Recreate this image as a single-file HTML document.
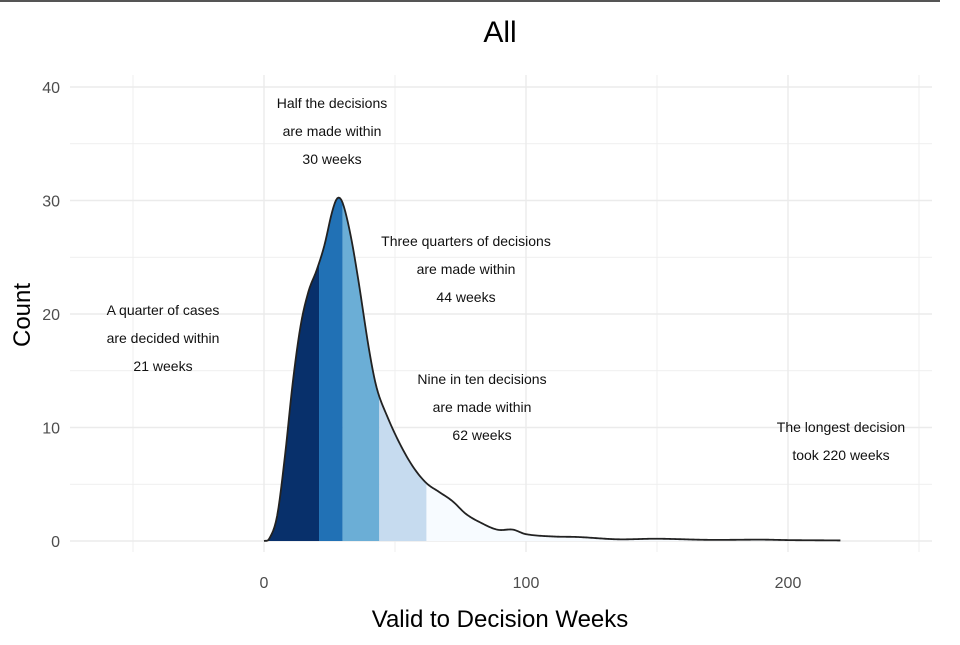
<!DOCTYPE html>
<html><head><meta charset="utf-8"><style>
body{margin:0;background:#fff;width:960px;height:640px;overflow:hidden}
svg{font-family:"Liberation Sans",sans-serif}
</style></head><body>
<svg id="chart" width="960" height="640" viewBox="0 0 960 640" xmlns="http://www.w3.org/2000/svg">
<rect x="0" y="0" width="940" height="2" fill="#555"/>
<g id="grid"></g>
<g id="areas"></g>
<g id="ticks"></g>
<text x="500" y="42" font-size="30" text-anchor="middle" fill="#000">All</text>
<text x="500" y="627" font-size="24" text-anchor="middle" fill="#000">Valid to Decision Weeks</text>
<text transform="translate(30,315) rotate(-90)" font-size="24" text-anchor="middle" fill="#000">Count</text>
<g font-size="14" fill="#111" text-anchor="middle">
<text><tspan x="163" y="315">A quarter of cases</tspan><tspan x="163" y="343">are decided within</tspan><tspan x="163" y="371">21 weeks</tspan></text>
<text><tspan x="332" y="108">Half the decisions</tspan><tspan x="332" y="136">are made within</tspan><tspan x="332" y="164">30 weeks</tspan></text>
<text><tspan x="466" y="246">Three quarters of decisions</tspan><tspan x="466" y="274">are made within</tspan><tspan x="466" y="302">44 weeks</tspan></text>
<text><tspan x="482" y="384">Nine in ten decisions</tspan><tspan x="482" y="412">are made within</tspan><tspan x="482" y="440">62 weeks</tspan></text>
<text><tspan x="841" y="432">The longest decision</tspan><tspan x="841" y="460">took 220 weeks</tspan></text>
</g>
</svg>
<script>
const weeks = [0,2,5,8,11,14,17,20,23,26,28,30,33,36,40,43,47,52,57,62,67,72,77,82,89,95,100,110,120,135,150,170,190,200,220];
const counts = [0,0.2,2.2,7.5,14,19,22,23.8,26,29,30.2,29.8,27,23,17,13.5,11,8.5,6.5,5.1,4.3,3.5,2.4,1.7,1.0,1.0,0.6,0.4,0.35,0.15,0.2,0.1,0.12,0.08,0.05];
const breaks = [0,21,30,44,62,220];
const fills = ['#08306b','#2171b5','#6baed6','#c6dbef','#f7fbff'];
const xTicks = [0,100,200];
const yTicks = [0,10,20,30,40];
const NS='http://www.w3.org/2000/svg';
const X0=70,X1=932;
function xs(v){return 264+v*2.62;}
function ys(v){return 541-v*11.35;}
function mk(t,a,p){const e=document.createElementNS(NS,t);for(const k in a)e.setAttribute(k,a[k]);p.appendChild(e);return e;}
const grid=document.getElementById('grid');
for(let v=-50;v<=250;v+=50){const l=mk('line',{x1:xs(v),x2:xs(v),y1:75,y2:552,stroke:'#ebebeb','stroke-width':v%100===0?1.4:0.8},grid);

}
for(let v=0;v<=40;v+=5){const l=mk('line',{x1:X0,x2:X1,y1:ys(v),y2:ys(v),stroke:'#ebebeb','stroke-width':v%10===0?1.4:0.8},grid);

}
// Catmull-Rom smoothing in data space
function smoothAt(w){
  const n=weeks.length;
  let i=1;while(i<n-1&&w>weeks[i])i++;
  const i0=Math.max(i-2,0),i1=i-1,i2=i,i3=Math.min(i+1,n-1);
  const t=(w-weeks[i1])/(weeks[i2]-weeks[i1]||1);
  const m1=(counts[i2]-counts[i0])/((weeks[i2]-weeks[i0])||1)*(weeks[i2]-weeks[i1]);
  const m2=(counts[i3]-counts[i1])/((weeks[i3]-weeks[i1])||1)*(weeks[i2]-weeks[i1]);
  const t2=t*t,t3=t2*t;
  const v=(2*t3-3*t2+1)*counts[i1]+(t3-2*t2+t)*m1+(-2*t3+3*t2)*counts[i2]+(t3-t2)*m2;
  return Math.max(0,v);
}
const first=weeks[0],last=weeks[weeks.length-1];
const areas=document.getElementById('areas');
for(let b=0;b<fills.length;b++){const a=breaks[b],z=breaks[b+1];let d='M'+xs(a)+','+ys(0);
for(let w=a;w<z;w+=0.5){d+=' L'+xs(w)+','+ys(smoothAt(w));}
d+=' L'+xs(z)+','+ys(smoothAt(z))+' L'+xs(z)+','+ys(0)+'Z';
const p=mk('path',{d:d,fill:fills[b],stroke:'none'},areas);

}
let ld='';for(let w=first;w<=last;w+=0.5){ld+=(w===first?'M':' L')+xs(w)+','+ys(smoothAt(w));}
const line=mk('path',{d:ld,fill:'none',stroke:'#222','stroke-width':1.8,'stroke-linejoin':'round'},areas);


const ticks=document.getElementById('ticks');
xTicks.forEach(v=>{const t=mk('text',{x:xs(v),y:588,'font-size':16,'text-anchor':'middle',fill:'#4d4d4d'},ticks);t.textContent=v;

});
yTicks.forEach(v=>{const t=mk('text',{x:60,y:ys(v)+6,'font-size':16,'text-anchor':'end',fill:'#4d4d4d'},ticks);t.textContent=v;

});
</script>
</body></html>
